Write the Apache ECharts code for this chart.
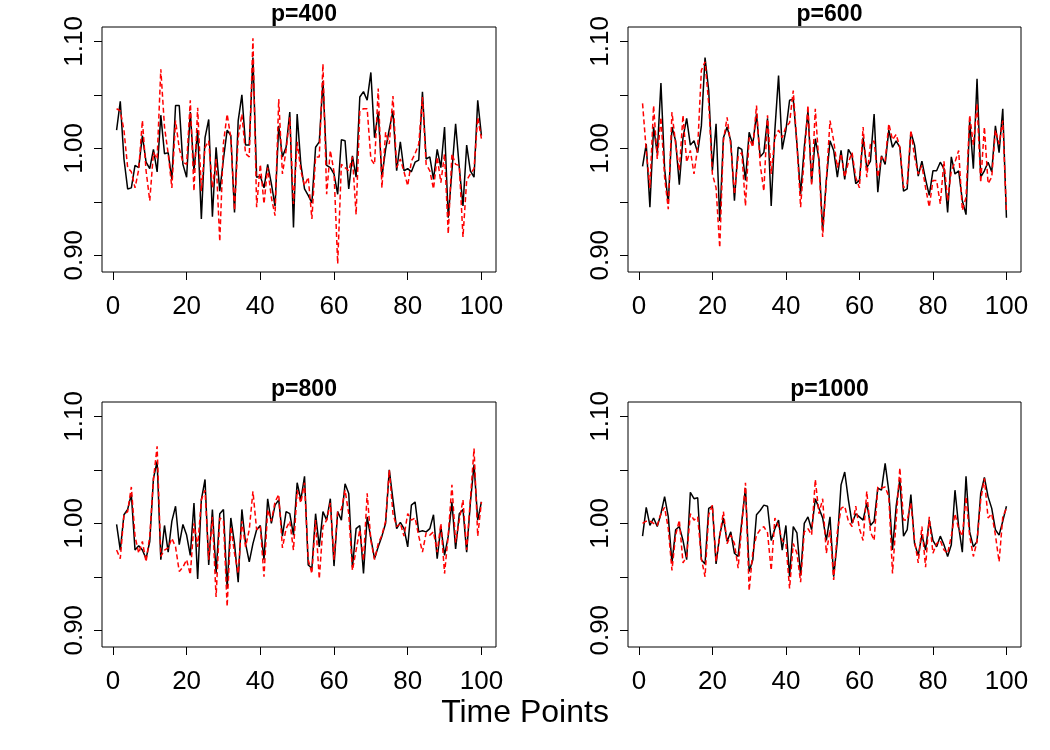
<!DOCTYPE html>
<html>
<head>
<meta charset="utf-8">
<script src="https://cdn.jsdelivr.net/npm/echarts@6/dist/echarts.min.js"></script>
<style>
  html, body { margin: 0; padding: 0; background: #fff; }
  #chart { width: 1050px; height: 750px; }
</style>
</head>
<body>
<div id="chart"></div>
<script>
// panel titles
const panelTitles = ['p=400', 'p=600', 'p=800', 'p=1000']
// tick labels
const xTicks = [0, 20, 40, 60, 80, 100]
const yLabelTicks = [0.9, 1.0, 1.1]
const yMinorTicks = [0.9, 0.95, 1.0, 1.05, 1.1]

// black solid line, one array per panel (time points 1..100)
const black400 = [1.017, 1.044, 0.990, 0.962, 0.963, 0.984, 0.982, 1.012, 0.987, 0.981,
  0.999, 0.978, 1.031, 0.995, 0.996, 0.971, 1.040, 1.040, 0.985, 0.973,
  1.034, 0.979, 1.017, 0.934, 1.010, 1.027, 0.936, 1.001, 0.960, 0.990,
  1.017, 1.012, 0.940, 1.026, 1.050, 1.003, 1.003, 1.085, 0.973, 0.974,
  0.963, 0.985, 0.967, 0.946, 1.021, 0.992, 1.001, 1.034, 0.926, 1.032,
  0.985, 0.962, 0.956, 0.949, 1.001, 1.006, 1.063, 0.984, 0.982, 0.976,
  0.957, 1.008, 1.007, 0.962, 0.993, 0.973, 1.048, 1.053, 1.045, 1.071,
  1.010, 1.034, 0.973, 0.999, 1.018, 1.035, 0.979, 1.006, 0.979, 0.981,
  0.978, 0.987, 0.989, 1.053, 0.990, 0.992, 0.971, 0.999, 0.982, 1.020,
  0.935, 0.979, 1.023, 0.982, 0.946, 1.003, 0.979, 0.973, 1.045, 1.012]
const black600 = [0.983, 1.004, 0.945, 1.020, 0.995, 1.061, 0.981, 0.948, 1.020, 1.007,
  0.966, 1.010, 1.028, 1.003, 1.007, 0.996, 1.021, 1.085, 1.054, 0.979,
  1.023, 0.932, 1.010, 1.020, 1.007, 0.951, 1.001, 0.999, 0.970, 1.015,
  1.004, 1.032, 0.992, 0.996, 1.028, 0.946, 1.017, 1.068, 0.999, 1.017,
  1.045, 1.046, 1.004, 0.957, 1.001, 1.035, 0.968, 1.009, 0.990, 0.923,
  0.970, 1.007, 0.998, 0.973, 0.998, 0.971, 0.999, 0.993, 0.967, 0.970,
  1.010, 0.982, 0.988, 1.032, 0.959, 0.993, 0.985, 1.017, 1.001, 1.007,
  1.001, 0.960, 0.962, 1.015, 1.003, 0.974, 0.988, 0.971, 0.956, 0.979,
  0.979, 0.987, 0.981, 0.940, 0.992, 0.976, 0.979, 0.951, 0.938, 1.026,
  0.981, 1.065, 0.973, 0.979, 0.987, 0.978, 1.021, 0.996, 1.037, 0.935]
const black800 = [0.999, 0.975, 1.008, 1.013, 1.027, 0.975, 0.979, 0.975, 0.967, 0.983,
  1.042, 1.058, 0.966, 0.998, 0.973, 1.002, 1.016, 0.980, 0.999, 0.989,
  0.970, 1.019, 0.948, 1.022, 1.041, 0.961, 1.013, 0.953, 1.009, 1.013,
  0.939, 1.005, 0.981, 0.945, 1.013, 0.981, 0.964, 0.981, 0.994, 0.998,
  0.966, 1.023, 1.000, 1.017, 1.022, 0.988, 1.011, 1.009, 0.989, 1.038,
  1.022, 1.044, 0.961, 0.958, 1.009, 0.978, 1.011, 1.003, 1.023, 0.960,
  1.011, 1.003, 1.037, 1.028, 0.959, 0.995, 0.998, 0.953, 1.006, 0.986,
  0.967, 0.978, 0.988, 1.000, 1.050, 1.022, 0.995, 1.001, 0.995, 0.978,
  1.017, 1.020, 0.992, 0.993, 0.992, 0.995, 1.008, 0.967, 0.997, 0.970,
  0.988, 1.020, 0.976, 1.009, 1.013, 0.973, 1.019, 1.055, 1.003, 1.020]
const black1000 = [0.988, 1.015, 0.998, 1.005, 0.997, 1.009, 1.025, 1.006, 0.963, 0.994,
  0.997, 0.984, 0.966, 1.029, 1.023, 1.024, 0.966, 0.962, 1.014, 1.016,
  0.962, 0.989, 1.005, 0.983, 0.992, 0.972, 0.969, 1.002, 1.033, 0.955,
  0.966, 1.008, 1.012, 1.017, 1.016, 0.984, 0.995, 1.003, 0.975, 0.998,
  0.950, 0.997, 0.991, 0.951, 1.000, 1.006, 0.994, 1.023, 1.014, 1.005,
  0.984, 1.006, 0.950, 0.984, 1.036, 1.048, 1.022, 1.000, 1.009, 1.006,
  1.003, 1.019, 0.998, 1.002, 1.033, 1.031, 1.056, 1.030, 0.975, 1.016,
  1.041, 0.988, 0.994, 1.027, 0.981, 0.970, 0.989, 0.975, 1.003, 0.984,
  0.978, 0.988, 0.980, 0.969, 0.980, 1.031, 0.997, 0.973, 1.044, 0.992,
  0.978, 0.983, 1.028, 1.043, 1.025, 1.014, 0.994, 0.989, 1.002, 1.016]

// red dashed line
const red400 = [1.037, 1.035, 1.017, 0.982, 0.978, 0.963, 0.980, 1.026, 0.979, 0.951,
  0.996, 0.990, 1.074, 1.020, 0.995, 0.963, 1.026, 1.000, 0.987, 0.985,
  1.045, 0.960, 1.038, 0.960, 1.001, 1.007, 0.963, 0.990, 0.913, 1.005,
  1.032, 1.010, 0.942, 1.010, 1.032, 0.995, 0.992, 1.103, 0.945, 0.985,
  0.948, 0.982, 0.954, 0.937, 1.046, 0.976, 0.998, 1.029, 0.948, 1.006,
  0.979, 0.965, 0.973, 0.934, 0.992, 0.992, 1.079, 0.957, 0.998, 0.978,
  0.892, 0.985, 0.982, 0.979, 0.992, 0.938, 1.035, 1.037, 1.037, 0.990,
  0.985, 1.056, 0.963, 1.015, 1.004, 1.049, 0.982, 0.990, 0.978, 0.965,
  0.988, 0.995, 1.004, 1.048, 0.985, 0.979, 0.962, 0.992, 0.968, 0.995,
  0.920, 0.995, 0.985, 0.984, 0.917, 0.970, 0.976, 0.981, 1.029, 1.009]
const red600 = [1.042, 0.998, 0.963, 1.040, 0.990, 1.029, 0.973, 0.943, 1.034, 1.004,
  0.979, 1.031, 0.987, 0.998, 0.976, 1.001, 1.073, 1.081, 1.042, 0.976,
  0.963, 0.907, 1.007, 1.029, 1.003, 0.957, 0.992, 0.996, 0.946, 1.010,
  1.001, 1.040, 0.985, 0.960, 1.031, 0.976, 1.010, 1.017, 1.010, 1.020,
  1.024, 1.054, 1.004, 0.945, 0.992, 1.040, 0.965, 1.037, 0.985, 0.917,
  0.970, 1.026, 1.007, 0.982, 0.995, 0.973, 0.987, 0.996, 0.973, 0.963,
  1.020, 0.973, 1.004, 1.007, 0.973, 0.992, 0.988, 1.023, 1.008, 1.013,
  1.001, 0.963, 0.967, 1.017, 0.992, 0.976, 0.984, 0.963, 0.945, 0.970,
  0.970, 0.948, 0.988, 0.951, 0.979, 0.987, 0.998, 0.942, 0.954, 1.031,
  1.003, 1.042, 0.968, 1.020, 0.967, 0.973, 1.017, 1.004, 1.026, 0.940]
const red800 = [0.975, 0.967, 1.008, 1.011, 1.034, 0.988, 0.972, 0.983, 0.964, 0.988,
  1.041, 1.072, 0.969, 0.975, 0.977, 0.986, 0.978, 0.955, 0.959, 0.966,
  0.952, 1.000, 0.978, 1.022, 1.031, 0.966, 1.006, 0.931, 1.005, 1.003,
  0.922, 0.997, 0.972, 0.953, 1.002, 0.978, 0.994, 1.030, 0.994, 0.997,
  0.950, 1.013, 1.002, 1.020, 1.027, 0.977, 0.995, 1.002, 0.975, 1.031,
  1.019, 1.038, 0.966, 0.953, 1.003, 0.948, 0.997, 1.003, 1.019, 0.966,
  1.011, 1.013, 1.031, 1.009, 0.956, 0.975, 0.994, 0.965, 1.028, 0.984,
  0.966, 0.981, 0.989, 1.002, 1.050, 1.009, 0.997, 1.000, 0.988, 1.009,
  1.003, 1.005, 0.988, 0.973, 0.991, 0.989, 0.992, 0.973, 1.000, 0.953,
  0.989, 1.036, 0.982, 1.003, 1.022, 0.975, 1.022, 1.070, 0.988, 1.020]
const red1000 = [1.000, 1.002, 1.002, 1.000, 0.998, 1.009, 1.015, 0.995, 0.956, 0.989,
  1.003, 0.963, 0.969, 1.009, 1.003, 1.006, 0.967, 0.950, 1.008, 1.017,
  0.964, 0.988, 1.011, 0.981, 0.989, 0.981, 0.958, 0.998, 1.038, 0.937,
  0.973, 0.989, 0.994, 0.997, 0.991, 0.956, 1.005, 0.997, 0.984, 0.981,
  0.939, 0.981, 0.972, 0.945, 0.992, 0.995, 0.989, 1.041, 1.009, 1.023,
  0.972, 0.994, 0.947, 0.992, 1.014, 1.016, 1.002, 0.997, 1.016, 0.995,
  0.984, 1.030, 0.992, 0.984, 1.034, 1.033, 1.034, 1.025, 0.953, 1.003,
  1.052, 1.003, 1.003, 1.019, 0.984, 0.963, 0.997, 0.959, 1.006, 0.972,
  0.981, 0.984, 0.975, 0.972, 0.988, 1.009, 0.995, 0.988, 1.025, 0.988,
  0.969, 0.983, 1.022, 1.042, 1.005, 1.009, 0.989, 0.964, 1.006, 1.014]

const blackLines = [black400, black600, black800, black1000]
const redLines = [red400, red600, red800, red1000]

// time points 1..100
const timePoints = black400.map((v, i) => i + 1)

const FONT = '"Liberation Sans", Arial, sans-serif'

// panel boxes in px (R par(mfrow = c(2, 2)) layout)
const boxes = [
  { left: 102, top: 27, width: 394, height: 245 },
  { left: 628, top: 27, width: 393, height: 245 },
  { left: 102, top: 402, width: 394, height: 245 },
  { left: 628, top: 402, width: 393, height: 245 }
]

const chart = echarts.init(document.getElementById('chart'), null, { renderer: 'canvas' })

const grid = boxes.map(b => ({
  left: b.left,
  top: b.top,
  width: b.width,
  height: b.height,
  show: true,
  borderColor: '#000',
  borderWidth: 1,
  backgroundColor: 'transparent'
}))

const xAxis = boxes.map((b, i) => ({
  type: 'value',
  gridIndex: i,
  min: -2.96,
  max: 103.96,
  // axis sits on the box edge, not on y = 0
  axisLine: { show: false, onZero: false },
  splitLine: { show: false },
  axisTick: {
    show: true,
    customValues: xTicks,
    length: 8,
    lineStyle: { color: '#000', width: 1 }
  },
  axisLabel: {
    customValues: xTicks,
    margin: 22,
    color: '#000',
    fontSize: 26,
    fontFamily: FONT
  }
}))

const yAxis = boxes.map((b, i) => ({
  type: 'value',
  gridIndex: i,
  min: 0.8843,
  max: 1.1135,
  // x range contains 0, so keep the axis off the zero line
  axisLine: { show: false, onZero: false },
  splitLine: { show: false },
  axisTick: {
    show: true,
    customValues: yMinorTicks,
    length: 8,
    lineStyle: { color: '#000', width: 1 }
  },
  axisLabel: {
    customValues: yLabelTicks,
    rotate: 90,
    margin: 14,
    color: '#000',
    fontSize: 26,
    fontFamily: FONT,
    formatter: v => v.toFixed(2)
  }
}))

const series = []
blackLines.forEach((vals, i) => {
  series.push({
    type: 'line',
    xAxisIndex: i,
    yAxisIndex: i,
    data: vals.map((v, k) => [timePoints[k], v]),
    showSymbol: false,
    lineStyle: { color: '#000', width: 1.5 },
    z: 2
  })
})
redLines.forEach((vals, i) => {
  series.push({
    type: 'line',
    xAxisIndex: i,
    yAxisIndex: i,
    data: vals.map((v, k) => [timePoints[k], v]),
    showSymbol: false,
    lineStyle: { color: '#ff0000', width: 1.5, type: [5, 3] },
    z: 3
  })
})

const title = boxes.map((b, i) => ({
  text: panelTitles[i],
  left: b.left + b.width / 2,
  top: b.top - 29,
  textAlign: 'center',
  textStyle: { fontSize: 23, fontWeight: 'bold', color: '#000', fontFamily: FONT }
}))

chart.setOption({
  animation: false,
  backgroundColor: '#fff',
  title,
  grid,
  xAxis,
  yAxis,
  series,
  graphic: [{
    type: 'text',
    left: 'center',
    top: 697,
    style: { text: 'Time Points', fontSize: 32, fill: '#000', fontFamily: FONT }
  }]
})
</script>
</body>
</html>
